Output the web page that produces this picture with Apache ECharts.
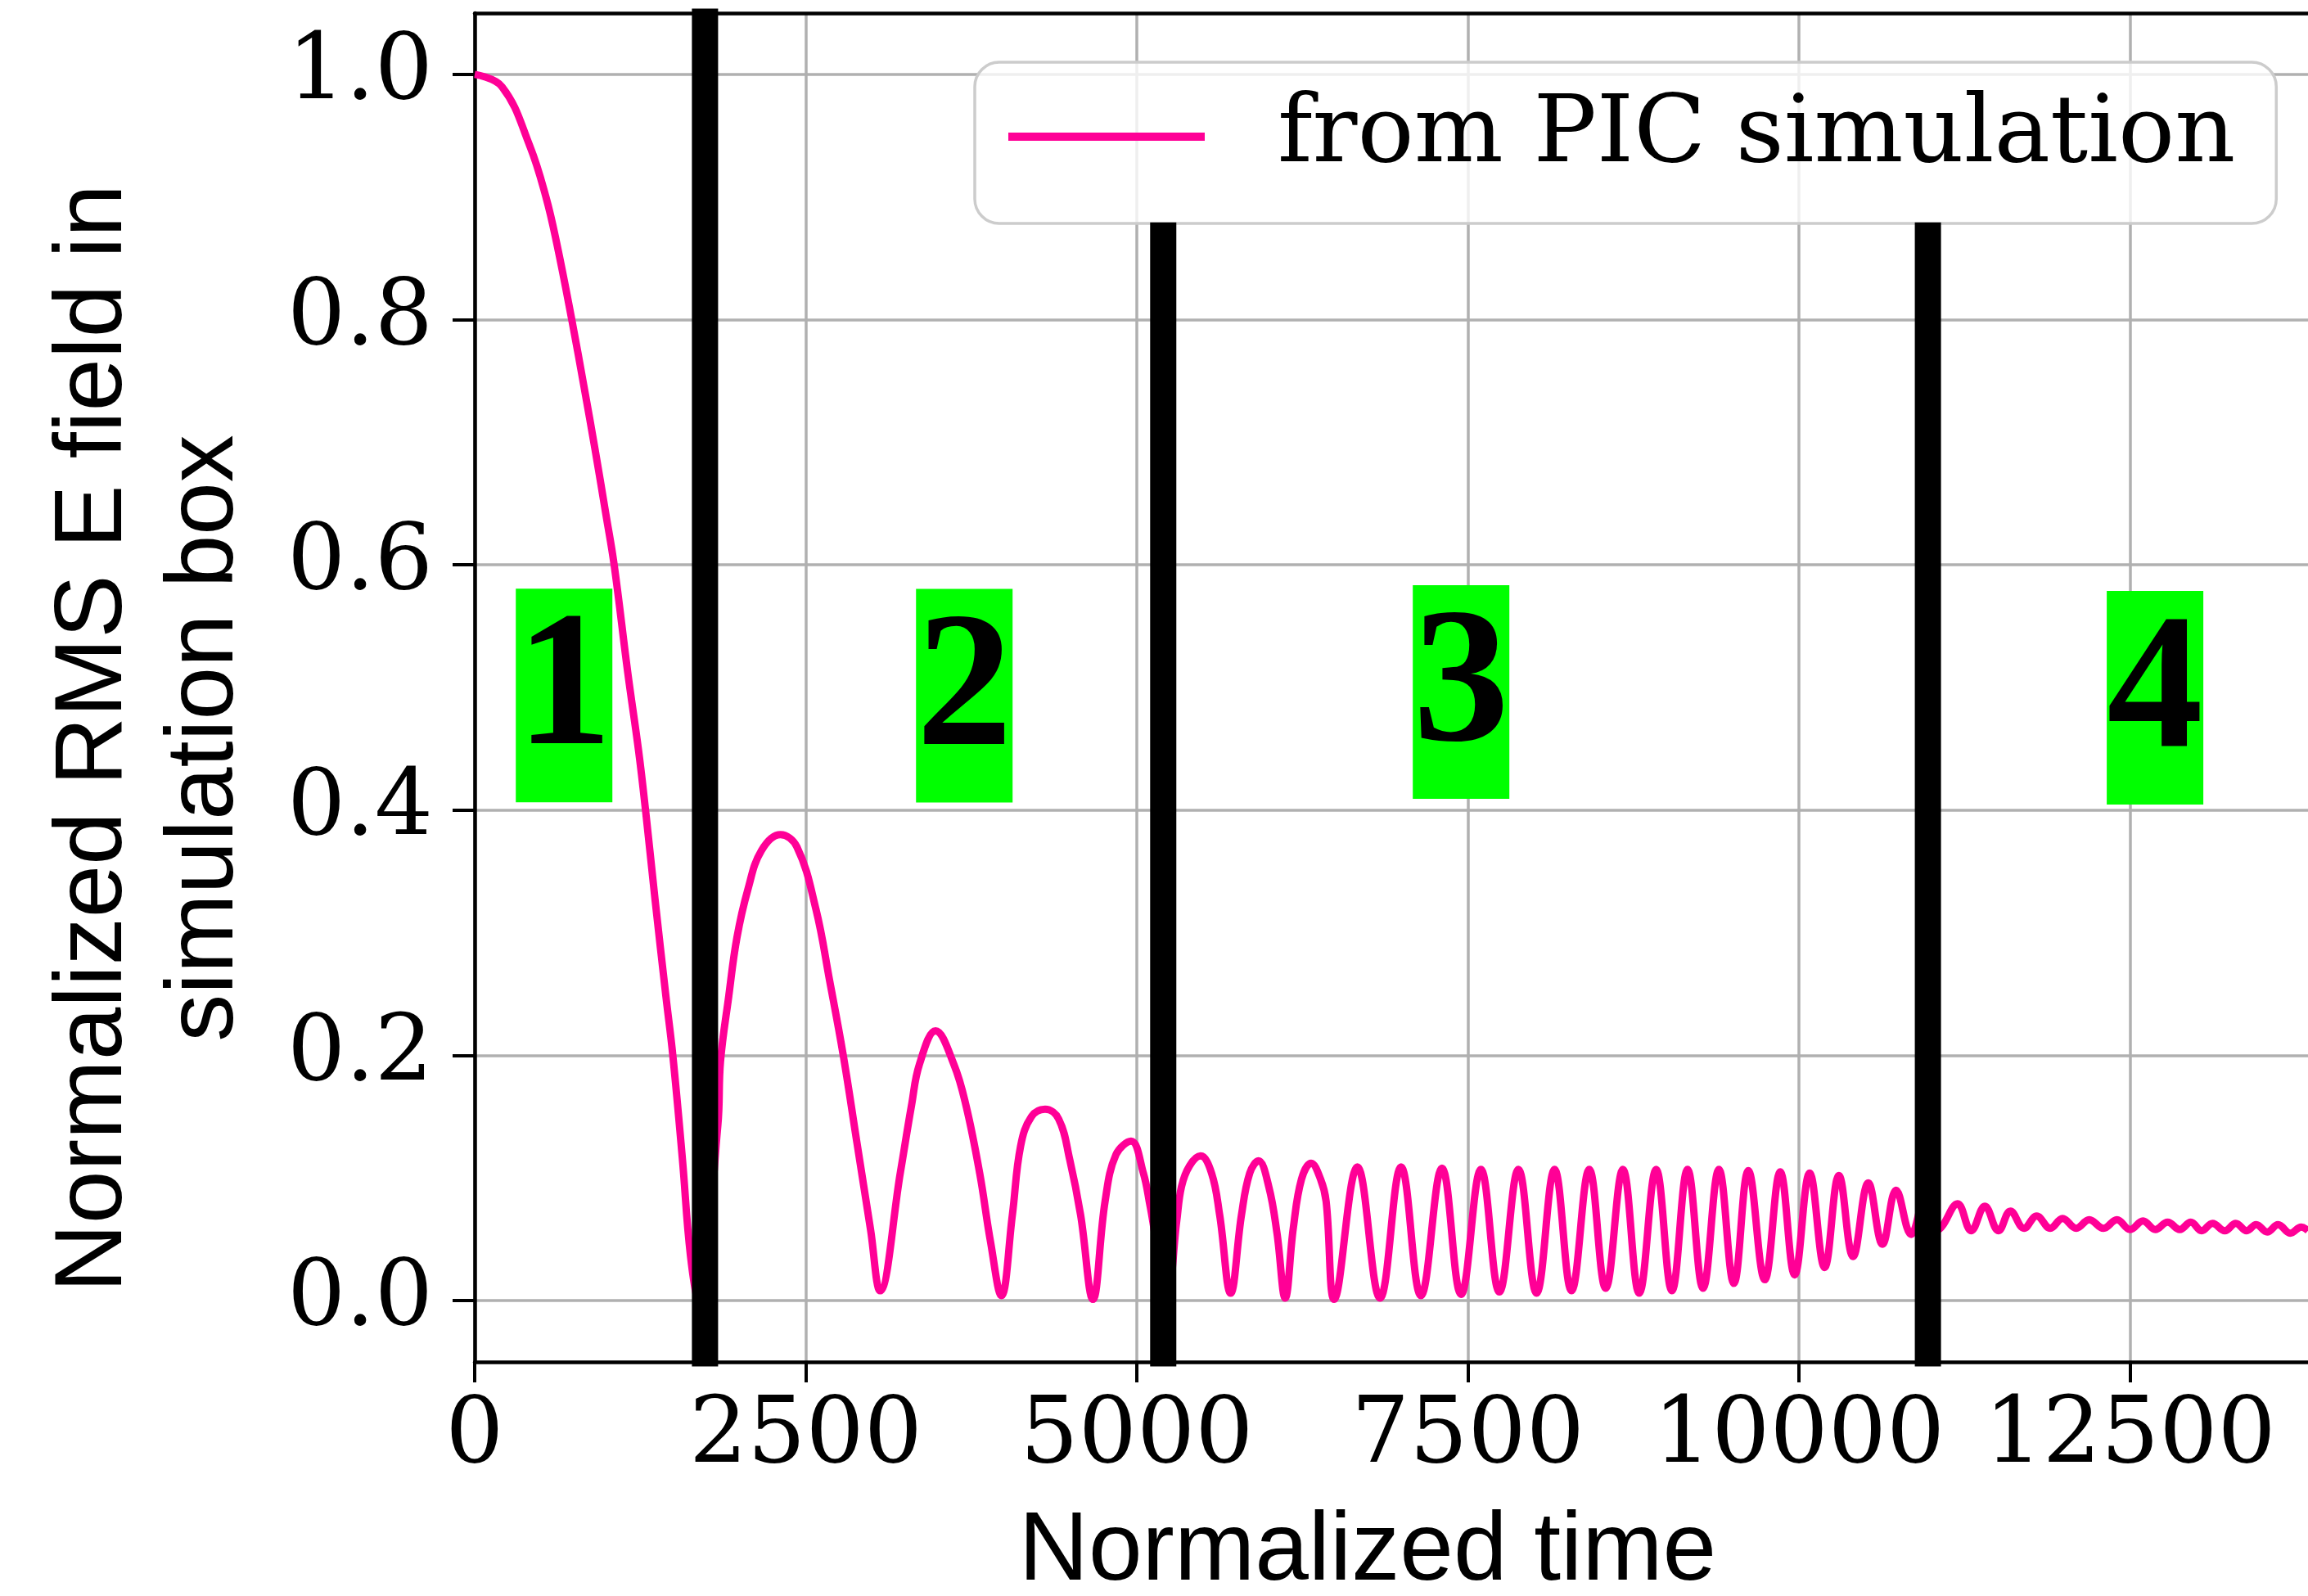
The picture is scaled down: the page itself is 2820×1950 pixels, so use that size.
<!DOCTYPE html>
<html><head><meta charset="utf-8">
<script src="https://cdn.jsdelivr.net/npm/echarts@6/dist/echarts.min.js"></script>
<style>html,body{margin:0;padding:0;background:#fff}#c{width:2820px;height:1950px}</style>
</head><body><div id="c"></div>
<script>
// ---- data ----
const timeValues = [
  0, 206, 415, 538, 620, 733, 826, 909, 991, 1053, 1156, 1238, 1290, 1362, 1444, 1496, 1568, 1629, 1690,
  1836, 1856, 1918, 1980, 2062, 2165, 2309, 2433, 2577, 2680, 2783, 2886, 2989, 3061,
  3215, 3298, 3359, 3480, 3617, 3710, 3813, 3895, 3977,
  4060, 4122, 4204, 4307, 4410, 4493, 4575, 4668,
  4760, 4842, 4956, 5049, 5100, 5230,
  5300, 5337, 5398, 5481, 5564, 5625, 5708,
  5790, 5852, 5918, 5996, 6058, 6120,
  6181, 6243, 6316, 6387, 6429, 6490,
  6665, 6836, 6995, 7145, 7304, 7448, 7598, 7737, 7881, 8018, 8154, 8282, 8416, 8540, 8670, 8793,
  8921, 9040, 9158, 9275, 9395, 9508, 9617, 9741, 9858, 9967, 10080, 10193, 10301, 10408, 10523, 10630,
  10733, 10847, 10955, 11055,
  11083, 11197, 11300, 11403, 11506, 11596, 11699, 11794, 11897, 11990, 12093, 12191, 12299, 12400,
  12500, 12597, 12690, 12783, 12875, 12958, 13040, 13122, 13215, 13298, 13380, 13452, 13535, 13617,
  13709, 13792, 13843
];
const fieldValues = [
  1.0, 0.990, 0.942, 0.900, 0.862, 0.800, 0.745, 0.694, 0.641, 0.600, 0.512, 0.448, 0.400, 0.327, 0.248, 0.200, 0.116, 0.037, 0.0,
  0.143, 0.195, 0.248, 0.296, 0.335, 0.367, 0.380, 0.370, 0.319, 0.261, 0.200, 0.129, 0.058, 0.008,
  0.105, 0.159, 0.193, 0.220, 0.193, 0.159, 0.104, 0.048, 0.004,
  0.070, 0.126, 0.150, 0.156, 0.148, 0.115, 0.070, 0.001,
  0.081, 0.119, 0.130, 0.104, 0.077, 0.005,
  0.064, 0.093, 0.110, 0.118, 0.104, 0.070, 0.006,
  0.070, 0.104, 0.114, 0.093, 0.055, 0.002,
  0.059, 0.099, 0.112, 0.099, 0.081, 0.001,
  0.109, 0.002, 0.109, 0.004, 0.108, 0.005, 0.107, 0.007, 0.107, 0.006, 0.107, 0.008, 0.107, 0.010, 0.107, 0.006,
  0.107, 0.008, 0.107, 0.010, 0.107, 0.014, 0.106, 0.017, 0.105, 0.021, 0.104, 0.027, 0.102, 0.036, 0.096, 0.046,
  0.090, 0.054, 0.084, 0.058,
  0.061, 0.079, 0.057, 0.077, 0.057, 0.073, 0.059, 0.069, 0.059, 0.067, 0.059, 0.066, 0.059, 0.066,
  0.058, 0.065, 0.058, 0.064, 0.058, 0.064, 0.057, 0.063, 0.057, 0.063, 0.057, 0.062, 0.056, 0.062,
  0.055, 0.060, 0.057
];
const xTicks = [0, 2500, 5000, 7500, 10000, 12500];
const yTicks = [0.0, 0.2, 0.4, 0.6, 0.8, 1.0];
const phaseBoundaries = [1739, 5199, 10973];
const phaseLineTops = [1.0536, 0.8793, 0.8793];
const phaseLineBottom = -0.0536;
const phaseLabels = ['1', '2', '3', '4'];
const phaseLabelX = [675, 3697, 7448, 12688];
const phaseLabelY = [0.4935, 0.4934, 0.4964, 0.4917];
const seriesName = 'from PIC simulation';
const xTitle = 'Normalized time';
const yTitle = 'Normalized RMS E field in\nsimulation box';

// ---- chart ----
const curveData = timeValues.map((t, i) => [t, fieldValues[i]]);
if (timeValues.length !== fieldValues.length) console.error('length mismatch', timeValues.length, fieldValues.length);

const chart = echarts.init(document.getElementById('c'), null, {renderer: 'canvas'});
const PINK = '#ff0096';
const axisFont = 'DejaVu Serif';

const barSeries = phaseBoundaries.map((x, i) => ({
  type: 'line',
  data: [[x, phaseLineBottom], [x, phaseLineTops[i]]],
  showSymbol: false,
  symbol: 'none',
  clip: false,
  silent: true,
  z: 5,
  lineStyle: {color: '#000', width: 32, cap: 'butt'},
  emphasis: {disabled: true}
}));

const option = {
  animation: false,
  backgroundColor: '#ffffff',
  grid: {left: 580, right: 0, top: 16, bottom: 286, containLabel: false, outerBoundsMode: 'none'},
  xAxis: [{
    type: 'value', min: 0, max: 13843, position: 'bottom',
    axisLine: {show: true, onZero: false, lineStyle: {color: '#000', width: 4.5}},
    axisTick: {show: true, customValues: xTicks, length: 25, lineStyle: {color: '#000', width: 4}},
    axisLabel: {customValues: xTicks, formatter: v => String(v), margin: 37, fontSize: 112, fontFamily: axisFont, color: '#000'},
    splitLine: {show: true, lineStyle: {color: '#b0b0b0', width: 3.5}}
  }, {
    type: 'value', min: 0, max: 13843, position: 'top',
    axisLine: {show: true, onZero: false, lineStyle: {color: '#000', width: 4.5}},
    axisTick: {show: false}, axisLabel: {show: false}, splitLine: {show: false}
  }],
  yAxis: {
    type: 'value', min: -0.05, max: 1.05,
    axisLine: {show: true, onZero: false, lineStyle: {color: '#000', width: 4.5}},
    axisTick: {show: true, customValues: yTicks, length: 27, lineStyle: {color: '#000', width: 4}},
    axisLabel: {customValues: yTicks, formatter: v => Number(v).toFixed(1), margin: 51, fontSize: 112, fontFamily: axisFont, color: '#000'},
    splitLine: {show: true, lineStyle: {color: '#b0b0b0', width: 3.5}}
  },
  legend: {
    show: true,
    data: [{name: seriesName, icon: 'rect'}],
    left: 1191, top: 76,
    itemWidth: 240, itemHeight: 10,
    padding: [26, 50, 41, 41],
    backgroundColor: 'rgba(255,255,255,0.8)',
    borderColor: '#cccccc', borderWidth: 3.5, borderRadius: 30,
    selectedMode: false,
    itemStyle: {color: PINK, borderWidth: 0},
    textStyle: {fontSize: 115, fontFamily: axisFont, color: '#000', lineHeight: 130, padding: [0, 0, 0, 84]}
  },
  graphic: [
    {type: 'text', x: 1671, y: 1897, silent: true,
     style: {text: xTitle, fontSize: 118, fontFamily: 'Liberation Sans', fill: '#000',
             align: 'center', textAlign: 'center', verticalAlign: 'middle', textVerticalAlign: 'middle'}},
    {type: 'text', x: 184, y: 902, rotation: Math.PI / 2, silent: true,
     style: {text: yTitle, fontSize: 116, fontFamily: 'Liberation Sans', fill: '#000', lineHeight: 136,
             align: 'center', textAlign: 'center', verticalAlign: 'middle', textVerticalAlign: 'middle'}}
  ],
  series: [{
    name: seriesName,
    type: 'line',
    data: curveData,
    showSymbol: false,
    symbol: 'none',
    smooth: 0.4,
    z: 3,
    lineStyle: {color: PINK, width: 9},
    itemStyle: {color: PINK},
    emphasis: {disabled: true}
  }].concat(barSeries).concat([{
    type: 'custom',
    z: 6,
    silent: true,
    clip: false,
    data: phaseLabelX.map((x, i) => [x, phaseLabelY[i]]),
    renderItem: function (params, api) {
      const p = api.coord([api.value(0), api.value(1)]);
      return {
        type: 'group',
        children: [
          {type: 'rect', shape: {x: p[0] - 59, y: p[1] - 130.5, width: 118, height: 261}, style: {fill: '#00ff00'}},
          {type: 'text', x: p[0], y: p[1] - 2,
           style: {text: phaseLabels[params.dataIndex], fontSize: 235, fontWeight: 'bold', fontFamily: 'Liberation Serif',
                   fill: '#000', align: 'center', textAlign: 'center', verticalAlign: 'middle', textVerticalAlign: 'middle'}}
        ]
      };
    }
  }])
};
chart.setOption(option);
</script>
</body></html>
